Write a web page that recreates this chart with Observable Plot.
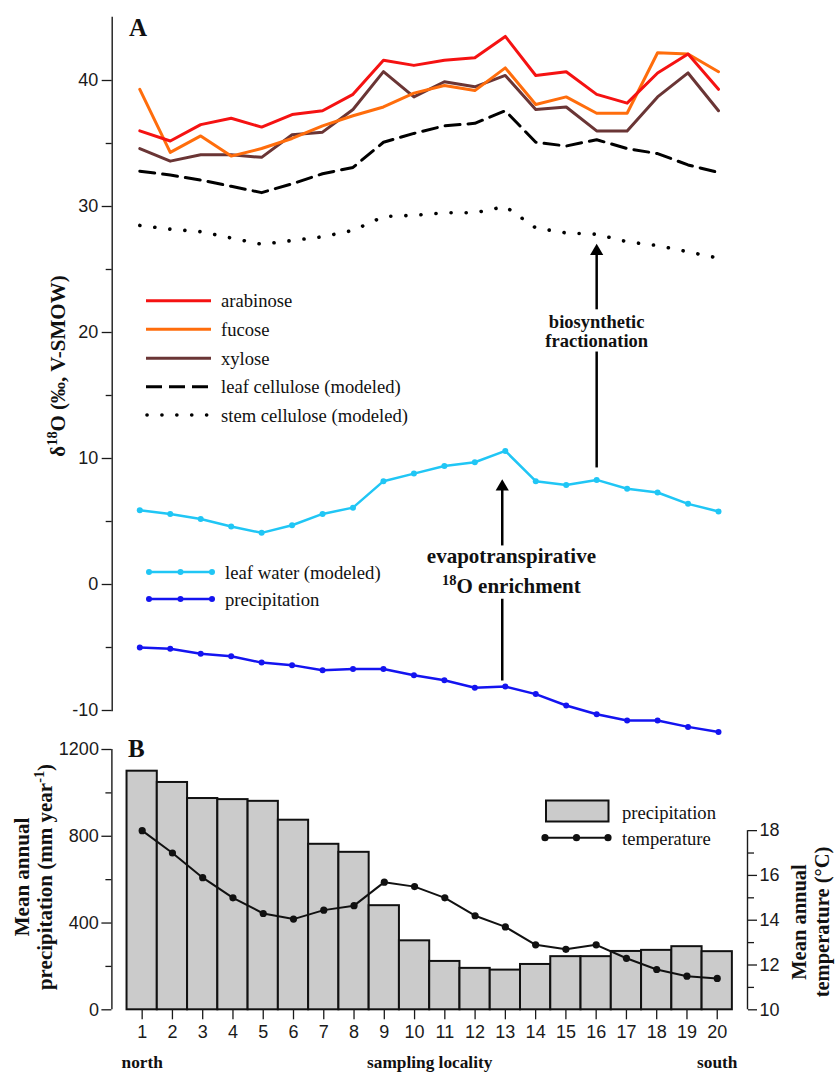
<!DOCTYPE html>
<html><head><meta charset="utf-8">
<script src="https://cdn.jsdelivr.net/npm/d3@7"></script>
<script src="https://cdn.jsdelivr.net/npm/@observablehq/plot@0.6"></script>
<style>
body{margin:0;background:#fff}
#wrap{position:relative;width:835px;height:1076px;overflow:hidden}
#wrap svg{position:absolute;left:0}
</style></head>
<body><div id="wrap"></div>
<script>
// ---------- data ----------
const localities = [1,2,3,4,5,6,7,8,9,10,11,12,13,14,15,16,17,18,19,20];
const arabinose     = [36.0,35.2,36.5,37.0,36.3,37.3,37.6,38.9,41.6,41.2,41.6,41.8,43.5,40.4,40.7,38.9,38.2,40.6,42.1,39.3];
const fucose        = [39.3,34.3,35.6,34.0,34.6,35.4,36.4,37.2,37.9,39.0,39.6,39.2,41.0,38.1,38.7,37.4,37.4,42.2,42.1,40.7];
const xylose        = [34.6,33.6,34.1,34.1,33.9,35.7,35.9,37.7,40.7,38.7,39.9,39.5,40.4,37.7,37.9,36.0,36.0,38.7,40.6,37.6];
const leafCellulose = [32.8,32.5,32.1,31.6,31.1,31.8,32.6,33.1,35.1,35.8,36.4,36.6,37.6,35.1,34.8,35.3,34.6,34.2,33.3,32.7];
const stemCellulose = [28.5,28.2,28.0,27.5,27.0,27.3,27.6,28.1,29.2,29.3,29.5,29.5,30.0,28.3,27.9,27.8,27.2,26.9,26.4,25.9];
const leafWater     = [5.9,5.6,5.2,4.6,4.1,4.7,5.6,6.1,8.2,8.8,9.4,9.7,10.6,8.2,7.9,8.3,7.6,7.3,6.4,5.8];
const precipD18O    = [-5.0,-5.1,-5.5,-5.7,-6.2,-6.4,-6.8,-6.7,-6.7,-7.2,-7.6,-8.2,-8.1,-8.7,-9.6,-10.3,-10.8,-10.8,-11.3,-11.7];
const annualPrecip  = [1100,1048,974,969,961,874,763,726,480,318,223,191,183,209,245,245,269,274,291,268];
const annualTemp    = [18.0,17.0,15.9,15.0,14.3,14.05,14.45,14.65,15.7,15.5,15.0,14.2,13.7,12.9,12.7,12.9,12.3,11.8,11.5,11.4];

const ticksA_major = [-10,0,10,20,30,40];
const ticksA_minor = [-5,5,15,25,35];
const ticksP_major = [0,400,800,1200];
const ticksP_minor = [200,600,1000];
const ticksT_major = [10,12,14,16,18];
const ticksT_minor = [11,13,15,17];

const annotText = [
  {loc:16, value:20.85, text:"biosynthetic", size:18.5},
  {loc:16, value:19.3, text:"fractionation", size:18.5},
  {loc:13.2, value:2.26, text:"evapotranspirative", size:21},
  {loc:13.2, value:-0.12, text:"18O enrichment", size:21}
];
const arrows = [
  {loc:16, from:9.25, gapLow:18.45, gapHigh:21.8, tip:27.04},
  {loc:12.9, from:-7.66, gapLow:-1.17, gapHigh:3.06, tip:8.35}
];
const sideLabels = [{loc:1, text:"north"},{loc:10.5, text:"sampling locality"},{loc:20, text:"south"}];

const C = {arab:"#f51212", fuc:"#ff6d0c", xyl:"#6a3535", lw:"#20c6f5", pr:"#1414f0"};
const SERIF = "'Liberation Serif', 'Times New Roman', serif";
const SANS = "'Liberation Sans', Arial, Helvetica, sans-serif";

const rows = localities.map((loc,i)=>({loc, arabinose:arabinose[i], fucose:fucose[i], xylose:xylose[i],
  leafCellulose:leafCellulose[i], stemCellulose:stemCellulose[i], leafWater:leafWater[i], precip:precipD18O[i],
  annualPrecip:annualPrecip[i], temp:annualTemp[i]}));

// ---------- panel A ----------
const svgA = Plot.plot({
  width:835, height:745,
  marginTop:17, marginBottom:35, marginLeft:111.7, marginRight:80,
  x:{domain:[1,20], range:[139.3,718], axis:null},
  y:{domain:[-10,45]},
  style:{fontFamily:SANS, fontSize:"18px", color:"#1a1a1a", background:"transparent", overflow:"visible"},
  marks:[
    Plot.frame({anchor:"left", stroke:"#1a1a1a", strokeWidth:1.4}),
    Plot.axisY(ticksA_major, {tickSize:10, tickPadding:4, tickFormat:d=>String(d), label:null, strokeWidth:1.3}),
    Plot.axisY(ticksA_minor, {tickSize:6, tickFormat:()=>"", label:null, strokeWidth:1.3}),
    Plot.line(rows, {x:"loc", y:"stemCellulose", stroke:"black", strokeWidth:3.6, strokeDasharray:"0.1,15", strokeLinecap:"round"}),
    Plot.line(rows, {x:"loc", y:"leafCellulose", stroke:"black", strokeWidth:3, strokeDasharray:"15,8"}),
    Plot.line(rows, {x:"loc", y:"xylose", stroke:C.xyl, strokeWidth:3}),
    Plot.line(rows, {x:"loc", y:"fucose", stroke:C.fuc, strokeWidth:3}),
    Plot.line(rows, {x:"loc", y:"arabinose", stroke:C.arab, strokeWidth:3}),
    Plot.line(rows, {x:"loc", y:"leafWater", stroke:C.lw, strokeWidth:2.5}),
    Plot.dot(rows, {x:"loc", y:"leafWater", fill:C.lw, r:3}),
    Plot.line(rows, {x:"loc", y:"precip", stroke:C.pr, strokeWidth:2.5}),
    Plot.dot(rows, {x:"loc", y:"precip", fill:C.pr, r:3}),
    Plot.ruleX(arrows, {x:"loc", y1:"from", y2:"gapLow", stroke:"black", strokeWidth:2.5}),
    Plot.ruleX(arrows, {x:"loc", y1:"gapHigh", y2:d=>d.tip-0.6, stroke:"black", strokeWidth:2.5}),
    Plot.dot(arrows, {x:"loc", y:"tip", symbol:"triangle", r:4.9, fill:"black", dy:7.5}),
    Plot.text(annotText, {x:"loc", y:"value", text:"text", fontSize:d=>d.size, fontWeight:"bold", fontFamily:SERIF, fill:"#111"})
  ]
});
svgA.style.top = "0px";
document.getElementById("wrap").appendChild(svgA);

// ---------- panel B ----------
const tMax = 826; // precip-scale position of 18 °C
const tToP = t => (t - 10) * tMax / 8;
const svgB = Plot.plot({
  width:835, height:346,
  marginTop:19, marginBottom:66.7, marginLeft:111.4, marginRight:88,
  x:{domain:[0,21]},
  y:{domain:[0,1200]},
  style:{fontFamily:SANS, fontSize:"18px", color:"#1a1a1a", background:"transparent"},
  marks:[
    Plot.rectY(rows, {x1:d=>d.loc-0.5, x2:d=>d.loc+0.5, y:"annualPrecip", fill:"#cbcbcb", stroke:"#111", strokeWidth:2}),
    Plot.ruleX([0], {y1:0, y2:1200, stroke:"#1a1a1a", strokeWidth:1.4}),
    Plot.ruleX([21], {y1:0, y2:tToP(18), stroke:"#1a1a1a", strokeWidth:1.4}),
    Plot.axisY(ticksP_major, {tickSize:10, tickPadding:3, tickFormat:d=>String(d), label:null, strokeWidth:1.3}),
    Plot.axisY(ticksP_minor, {tickSize:6, tickFormat:()=>"", label:null, strokeWidth:1.3}),
    Plot.axisY(ticksT_major.map(tToP), {anchor:"right", tickSize:9, tickPadding:3, tickFormat:p=>String(Math.round(p*8/tMax+10)), label:null, strokeWidth:1.3}),
    Plot.axisY(ticksT_minor.map(tToP), {anchor:"right", tickSize:6, tickFormat:()=>"", label:null, strokeWidth:1.3}),
    Plot.axisX(localities, {tickSize:10, tickPadding:5, label:null, tickFormat:d=>String(d), strokeWidth:1.3}),
    Plot.line(rows, {x:"loc", y:d=>tToP(d.temp), stroke:"#111", strokeWidth:2}),
    Plot.dot(rows, {x:"loc", y:d=>tToP(d.temp), fill:"#111", r:3.6}),
    Plot.text(sideLabels, {x:"loc", text:"text", frameAnchor:"bottom", dy:58, fontSize:17.3, fontWeight:"bold", fontFamily:SERIF, fill:"#111"})
  ]
});
svgB.style.top = "730px";
document.getElementById("wrap").appendChild(svgB);

// ---------- decorations (legends, titles) ----------
function rich(g, parts, {x, y, size, weight="normal", anchor="start", rotate=0}) {
  const t = g.append("text")
    .attr("transform", `translate(${x},${y})` + (rotate ? ` rotate(${rotate})` : ""))
    .attr("text-anchor", anchor).attr("dy", "0.35em")
    .attr("font-family", SERIF).attr("font-size", size).attr("font-weight", weight).attr("fill", "#111");
  let shifted = 0;
  parts.forEach(p => {
    if (typeof p === "string") {
      const s = t.append("tspan").text(p);
      if (shifted) { s.attr("dy", shifted); shifted = 0; }
    } else {
      const sh = size * 0.4;
      t.append("tspan").attr("font-size", size * 0.68).attr("dy", -sh).text(p.sup);
      shifted = sh;
    }
  });
  return t;
}

// panel A
const gA = d3.select(svgA).append("g");
rich(gA, ["A"], {x:129, y:27, size:25, weight:"bold"});
rich(gA, ["δ", {sup:"18"}, "O (‰, V-SMOW)"], {x:58, y:366, size:21, weight:"bold", anchor:"middle", rotate:-90});
const legA = [
  {name:"arabinose", y:300.7, stroke:C.arab, dash:null},
  {name:"fucose", y:329.3, stroke:C.fuc, dash:null},
  {name:"xylose", y:358.3, stroke:C.xyl, dash:null},
  {name:"leaf cellulose (modeled)", y:386.7, stroke:"black", dash:"16,7"},
  {name:"stem cellulose (modeled)", y:415, stroke:"black", dash:"0.1,14.8"}
];
legA.forEach(d => {
  const dotted = d.dash && d.dash.startsWith("0.1");
  const l = gA.append("line").attr("x1", dotted ? 147 : 146).attr("x2", 211)
    .attr("y1", d.y).attr("y2", d.y).attr("stroke", d.stroke).attr("stroke-width", dotted ? 3.6 : 3);
  if (d.dash) l.attr("stroke-dasharray", d.dash);
  if (dotted) l.attr("stroke-linecap", "round");
  rich(gA, [d.name], {x:221, y:d.y, size:18.6});
});
[{name:"leaf water (modeled)", y:572, c:C.lw}, {name:"precipitation", y:599, c:C.pr}].forEach(d => {
  gA.append("line").attr("x1", 149).attr("x2", 212).attr("y1", d.y).attr("y2", d.y).attr("stroke", d.c).attr("stroke-width", 2.5);
  [149, 180.5, 212].forEach(cx => gA.append("circle").attr("cx", cx).attr("cy", d.y).attr("r", 3).attr("fill", d.c));
  rich(gA, [d.name], {x:225, y:d.y, size:18.7});
});
// superscript in the annotation
d3.select(svgA).selectAll("text").filter(function(){ return this.textContent === "18O enrichment"; }).each(function(){
  const t = d3.select(this); t.text("");
  t.append("tspan").attr("font-size", 14.5).attr("dy", -7.5).text("18");
  t.append("tspan").attr("dy", 7.5).text("O enrichment");
});

// panel B
const gB = d3.select(svgB).append("g");
rich(gB, ["B"], {x:128, y:18, size:25, weight:"bold"});
rich(gB, ["Mean annual"], {x:22, y:147, size:21, weight:"bold", anchor:"middle", rotate:-90});
rich(gB, ["precipitation (mm year", {sup:"-1"}, ")"], {x:45, y:147, size:21, weight:"bold", anchor:"middle", rotate:-90});
rich(gB, ["Mean annual"], {x:799, y:192, size:20.5, weight:"bold", anchor:"middle", rotate:-90});
rich(gB, ["temperature (°C)"], {x:822, y:192, size:20.5, weight:"bold", anchor:"middle", rotate:-90});
gB.append("rect").attr("x", 546).attr("y", 70.5).attr("width", 62.5).attr("height", 21).attr("fill", "#cbcbcb").attr("stroke", "#111").attr("stroke-width", 2);
rich(gB, ["precipitation"], {x:622, y:82, size:18.6});
gB.append("line").attr("x1", 545).attr("x2", 608).attr("y1", 107.7).attr("y2", 107.7).attr("stroke", "#111").attr("stroke-width", 2);
[545, 576.5, 608].forEach(cx => gB.append("circle").attr("cx", cx).attr("cy", 107.7).attr("r", 3.6).attr("fill", "#111"));
rich(gB, ["temperature"], {x:622, y:108, size:18.6});
</script>
</body></html>
